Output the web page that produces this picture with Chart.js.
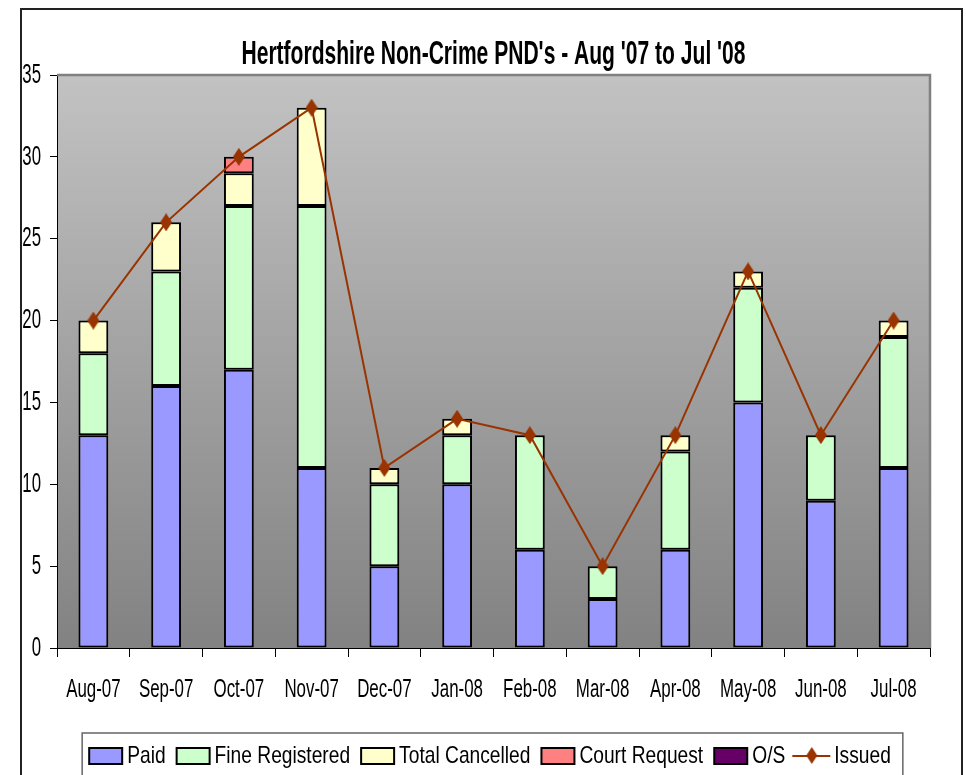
<!DOCTYPE html>
<html>
<head>
<meta charset="utf-8">
<script src="https://cdn.jsdelivr.net/npm/chart.js"></script>
<style>
  html, body { margin: 0; padding: 0; background: #fff; overflow: hidden; }
  #wrap { position: relative; width: 966px; height: 775px; }
</style>
</head>
<body>
<div id="wrap"><canvas id="chart" width="966" height="775"></canvas></div>
<script>
// data
const months = ['Aug-07', 'Sep-07', 'Oct-07', 'Nov-07', 'Dec-07', 'Jan-08', 'Feb-08', 'Mar-08', 'Apr-08', 'May-08', 'Jun-08', 'Jul-08'];
const paid = [13, 16, 17, 11, 5, 10, 6, 3, 6, 15, 9, 11];
const fineRegistered = [5, 7, 10, 16, 5, 3, 7, 2, 6, 7, 4, 8];
const totalCancelled = [2, 3, 2, 6, 1, 1, 0, 0, 1, 1, 0, 1];
const courtRequest = [0, 0, 1, 0, 0, 0, 0, 0, 0, 0, 0, 0];
const outstanding = [0, 0, 0, 0, 0, 0, 0, 0, 0, 0, 0, 0];
const issued = [20, 26, 30, 33, 11, 14, 13, 5, 13, 23, 13, 20];
const yTicks = [0, 5, 10, 15, 20, 25, 30, 35];

const FONT = "'Liberation Sans', Arial, sans-serif";
const LINE_COLOR = '#993300';

// no Arial Narrow here, so squeeze Liberation Sans horizontally (per font size)
const SQUEEZE = { 33: 0.638, 28: 0.6, 26: 0.65, 24: 0.8 };
const canvas = document.getElementById('chart');
const ctx2d = canvas.getContext('2d');
const rawFill = ctx2d.fillText;
const rawMeasure = ctx2d.measureText;
function squeezeFor(font) {
    const m = /(\d+(?:\.\d+)?)px/.exec(font);
    return (m && SQUEEZE[Math.round(+m[1])]) || 1;
}
ctx2d.fillText = function (text, x, y) {
    const k = squeezeFor(this.font);
    this.save();
    this.translate(x, y);
    this.scale(k, 1);
    rawFill.call(this, text, 0, 0);
    this.restore();
};
ctx2d.measureText = function (text) {
    const m = rawMeasure.call(this, text);
    const k = squeezeFor(this.font);
    return {
        width: m.width * k,
        actualBoundingBoxAscent: m.actualBoundingBoxAscent,
        actualBoundingBoxDescent: m.actualBoundingBoxDescent,
        actualBoundingBoxLeft: m.actualBoundingBoxLeft * k,
        actualBoundingBoxRight: m.actualBoundingBoxRight * k
    };
};

// tall diamond marker
function diamond(w, h, color) {
    const c = document.createElement('canvas');
    c.width = w; c.height = h;
    const g = c.getContext('2d');
    g.fillStyle = color;
    g.beginPath();
    g.moveTo(w / 2, 0); g.lineTo(w, h / 2); g.lineTo(w / 2, h); g.lineTo(0, h / 2);
    g.closePath();
    g.fill();
    return c;
}

// legend swatches, box sits at the right side of the image so the text gap is small
function swatch(color) {
    const c = document.createElement('canvas');
    c.width = 44; c.height = 18;
    const g = c.getContext('2d');
    g.fillStyle = color;
    g.fillRect(8, 1, 33, 16);
    g.strokeStyle = '#000';
    g.lineWidth = 2;
    g.strokeRect(8, 1, 33, 16);
    return c;
}
function lineSwatch() {
    const c = document.createElement('canvas');
    c.width = 44; c.height = 18;
    const g = c.getContext('2d');
    g.strokeStyle = LINE_COLOR;
    g.lineWidth = 2;
    g.beginPath(); g.moveTo(4, 9); g.lineTo(42, 9); g.stroke();
    g.drawImage(diamond(11, 17, LINE_COLOR), 18, 0);
    return c;
}

const legendImgs = [swatch('#9999FF'), swatch('#CCFFCC'), swatch('#FFFFCC'), swatch('#FF8080'), swatch('#660066'), lineSwatch()];

const framePlugin = {
    id: 'frame',
    afterLayout(chart) {
        // centre the legend under the plot area and nudge it down a little
        const lg = chart.legend;
        if (lg) {
            lg.left = chart.chartArea.left - 5;
            lg.top += 3;
            lg.bottom += 3;
            lg.adjustHitBoxes();
        }
    },
    beforeDraw(chart) {
        const ctx = chart.ctx;
        const a = chart.chartArea;
        ctx.save();
        // outer border
        ctx.strokeStyle = '#222';
        ctx.lineWidth = 2;
        ctx.strokeRect(21, 9, 941, 800);
        // plot area gradient
        const grad = ctx.createLinearGradient(0, a.top, 0, a.bottom);
        grad.addColorStop(0, '#C2C2C2');
        grad.addColorStop(1, '#828282');
        ctx.fillStyle = grad;
        ctx.fillRect(a.left, a.top, a.right - a.left, a.bottom - a.top);
        ctx.restore();
    },
    afterDraw(chart) {
        const ctx = chart.ctx;
        const a = chart.chartArea;
        ctx.save();
        ctx.strokeStyle = '#808080';
        ctx.lineWidth = 2.5;
        ctx.beginPath();
        ctx.moveTo(a.left, a.top); ctx.lineTo(a.right, a.top); ctx.lineTo(a.right, a.bottom);
        ctx.stroke();
        // title
        ctx.fillStyle = '#000';
        ctx.font = 'bold 33px ' + FONT;
        ctx.textAlign = 'center';
        ctx.textBaseline = 'middle';
        ctx.fillText("Hertfordshire Non-Crime PND's - Aug '07 to Jul '08", (a.left + a.right) / 2, 55);
        // legend frame
        const lg = chart.legend;
        if (lg && lg.legendHitBoxes.length) {
            const boxes = lg.legendHitBoxes;
            const last = boxes[boxes.length - 1];
            const l = boxes[0].left - 9;
            const r = last.left + last.width + 12;
            ctx.strokeStyle = '#666';
            ctx.lineWidth = 1.5;
            ctx.strokeRect(l, 733, r - l, 60);
        }
        ctx.restore();
    }
};

function barSet(label, data, color) {
    return {
        type: 'bar', label: label, data: data,
        backgroundColor: color, borderColor: '#000', borderWidth: 2, borderSkipped: false,
        barPercentage: 0.41, categoryPercentage: 1, order: 1, stack: 'pnd'
    };
}

new Chart(canvas, {
    data: {
        labels: months,
        datasets: [
            barSet('Paid', paid, '#9999FF'),
            barSet('Fine Registered', fineRegistered, '#CCFFCC'),
            barSet('Total Cancelled', totalCancelled, '#FFFFCC'),
            barSet('Court Request', courtRequest, '#FF8080'),
            barSet('O/S', outstanding, '#660066'),
            {
                type: 'line', label: 'Issued', data: issued, stack: 'issued', order: 0,
                borderColor: LINE_COLOR, borderWidth: 2, backgroundColor: LINE_COLOR,
                pointStyle: diamond(12, 18, LINE_COLOR), pointRadius: 6, tension: 0
            }
        ]
    },
    options: {
        responsive: false,
        animation: false,
        layout: { padding: { top: 75, right: 36, left: 0, bottom: 0 } },
        scales: {
            x: {
                stacked: true,
                grid: { display: true, drawOnChartArea: false, offset: true, tickLength: 9, color: '#000' },
                border: { display: true, color: '#000', width: 1 },
                ticks: { color: '#000', font: { family: FONT, size: 26 }, padding: 17, maxRotation: 0 },
                afterFit(s) { s.height = 80; }
            },
            y: {
                stacked: true, min: 0, max: 35,
                afterBuildTicks(s) { s.ticks = yTicks.map(v => ({ value: v })); },
                grid: { display: true, drawOnChartArea: false, tickLength: 7, color: '#000' },
                border: { display: true, color: '#000', width: 1 },
                ticks: { color: '#000', font: { family: FONT, size: 28 }, padding: 9 },
                afterFit(s) { s.width = 57; }
            }
        },
        plugins: {
            title: { display: false },
            tooltip: { enabled: false },
            legend: {
                position: 'bottom',
                labels: {
                    color: '#000',
                    font: { family: FONT, size: 24 },
                    usePointStyle: true,
                    pointStyleWidth: 24,
                    padding: 13,
                    generateLabels(chart) {
                        const items = Chart.defaults.plugins.legend.labels.generateLabels(chart);
                        items.sort((p, q) => p.datasetIndex - q.datasetIndex);
                        items.forEach(it => { it.pointStyle = legendImgs[it.datasetIndex]; });
                        return items;
                    }
                }
            }
        }
    },
    plugins: [framePlugin]
});
</script>
</body>
</html>
